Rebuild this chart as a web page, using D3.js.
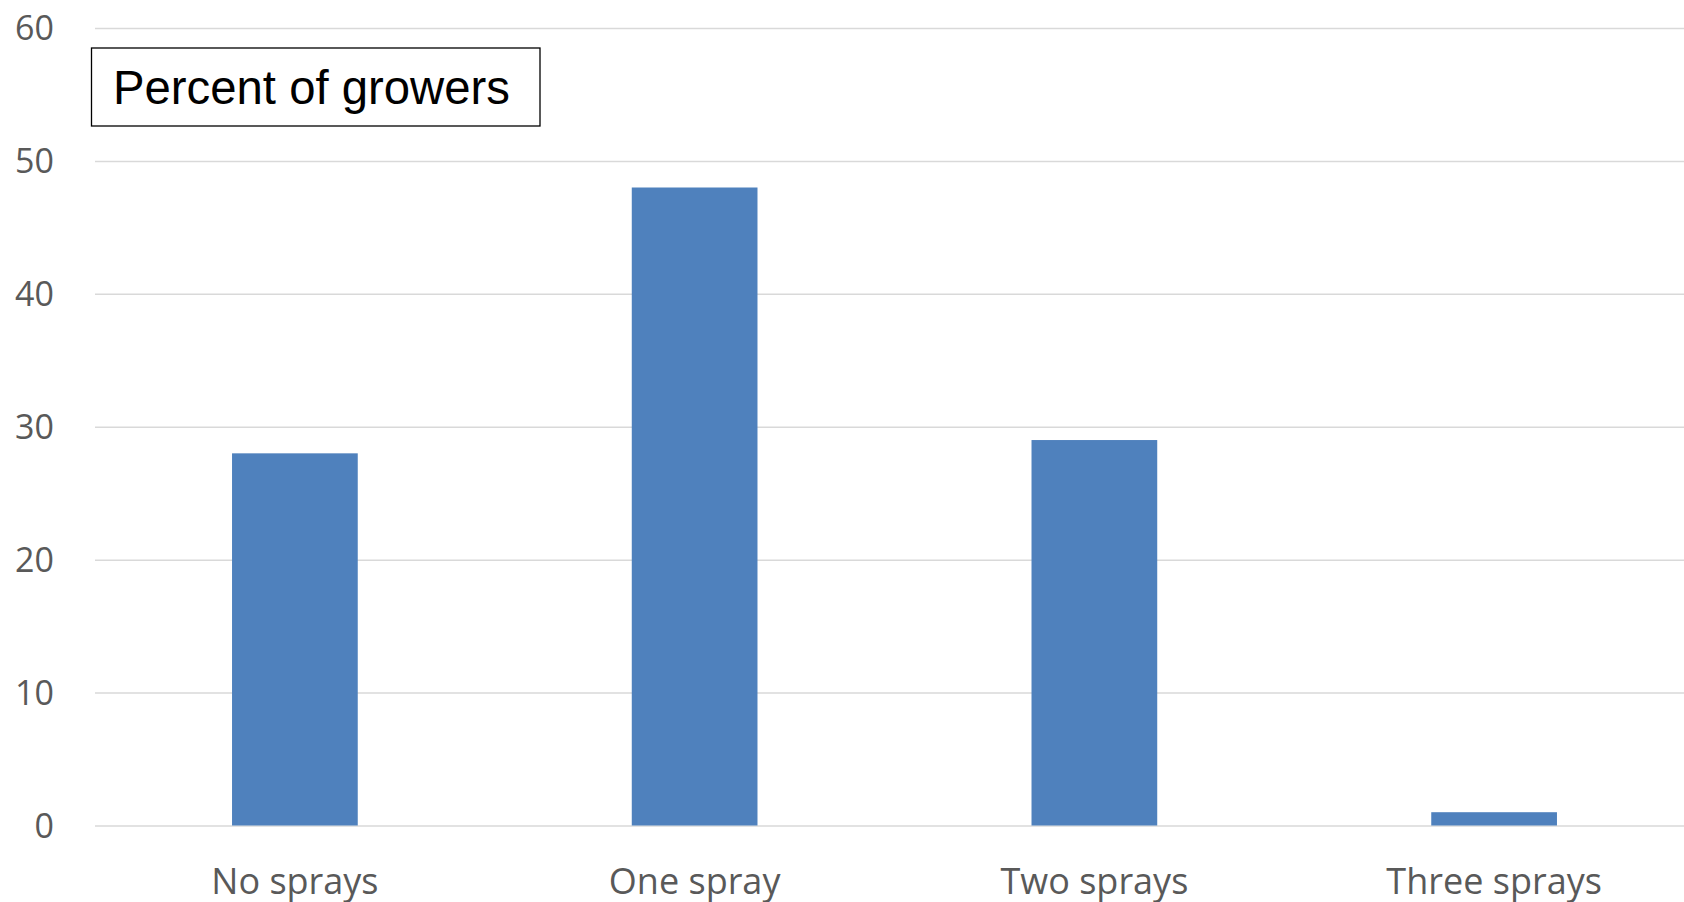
<!DOCTYPE html>
<html>
<head>
<meta charset="utf-8">
<script src="https://cdn.jsdelivr.net/npm/d3@7"></script>
<style>
  html, body { margin: 0; padding: 0; background: #fff; }
  svg { display: block; }
</style>
</head>
<body>
<div id="chart"></div>
<script>
// Data
const categories = ["No sprays", "One spray", "Two sprays", "Three sprays"];
const percentValues = [28, 48, 29, 1];
const yTickValues = [0, 10, 20, 30, 40, 50, 60];
const boxLabel = "Percent of growers";

const dimensions = {
  width: 1684,
  height: 902,
  margin: { top: 28, right: -10, bottom: 76.5, left: 95 },
};
dimensions.boundedWidth =
  dimensions.width - dimensions.margin.left - dimensions.margin.right;
dimensions.boundedHeight =
  dimensions.height - dimensions.margin.top - dimensions.margin.bottom;

const wrapper = d3
  .select("#chart")
  .append("svg")
  .attr("width", dimensions.width)
  .attr("height", dimensions.height);

const bound = wrapper
  .append("g")
  .attr("transform", `translate(${dimensions.margin.left}, ${dimensions.margin.top})`);

// Scales
const xScale = d3
  .scaleBand()
  .domain(categories)
  .range([0, dimensions.boundedWidth])
  .paddingInner(0.6855)
  .paddingOuter(0.3428);

const yScale = d3
  .scaleLinear()
  .domain([0, 60])
  .range([dimensions.boundedHeight, 0]);

// Gridlines + y labels
const yAxis = d3.axisLeft(yScale).tickValues(yTickValues).tickSize(0).tickPadding(0);
bound
  .append("g")
  .attr("class", "y-axis")
  .call(yAxis)
  .call((g) => g.select(".domain").remove())
  .call((g) =>
    g
      .selectAll(".tick line")
      .attr("x2", dimensions.boundedWidth)
      .attr("stroke", "#d9d9d9")
      .attr("stroke-width", 1.5)
  )
  .call((g) =>
    g
      .selectAll(".tick text")
      .attr("x", -41)
      .attr("dy", "0.35em")
      .style("font-family", "'Open Sans', sans-serif")
      .style("font-size", "34px")
      .attr("fill", "#595959")
  );

// Bars
bound
  .append("g")
  .selectAll("rect")
  .data(percentValues)
  .join("rect")
  .attr("x", (d, i) => xScale(categories[i]))
  .attr("y", (d) => yScale(d))
  .attr("width", xScale.bandwidth())
  .attr("height", (d) => yScale(0) - yScale(d))
  .attr("fill", "#4f81bd");

// x labels
const xAxis = d3.axisBottom(xScale).tickSize(0).tickPadding(0);
bound
  .append("g")
  .attr("class", "x-axis")
  .attr("transform", `translate(0, ${dimensions.boundedHeight})`)
  .call(xAxis)
  .call((g) => g.select(".domain").remove())
  .call((g) =>
    g
      .selectAll(".tick text")
      .attr("y", 68)
      .attr("dy", 0)
      .style("font-family", "'Open Sans', sans-serif")
      .style("font-size", "36px")
      .attr("fill", "#595959")
  );

// Label box
const box = wrapper.append("g").attr("class", "label-box");
box
  .append("rect")
  .attr("x", 91.5)
  .attr("y", 48)
  .attr("width", 448.5)
  .attr("height", 78)
  .attr("fill", "#fff")
  .attr("stroke", "#000")
  .attr("stroke-width", 1.3);
box
  .append("text")
  .attr("x", 113)
  .attr("y", 104)
  .style("font-family", "'Liberation Sans', Arial, sans-serif")
  .style("font-size", "47.3px")
  .attr("fill", "#000")
  .text(boxLabel);
</script>
</body>
</html>
